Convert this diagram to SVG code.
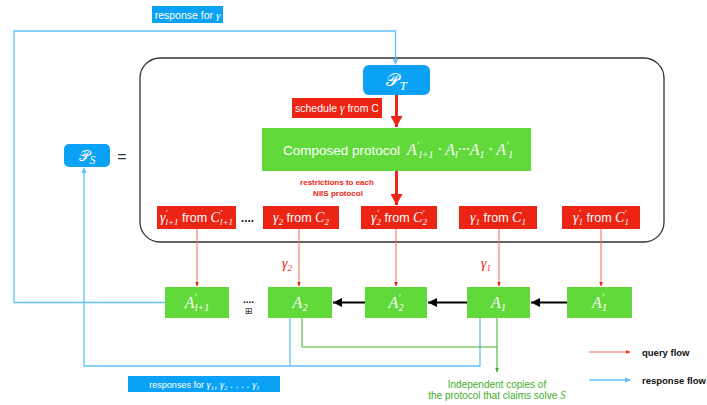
<svg xmlns="http://www.w3.org/2000/svg" width="707" height="405" viewBox="0 0 707 405">
<style>
.blue{fill:#0ba2f6}
.green{fill:#61d93b}
.red{fill:#ec2414}
.bl{fill:none;stroke:#60c1f9;stroke-width:1.3}
.rl{fill:none;stroke:#f26a5c;stroke-width:1}
.gl{fill:none;stroke:#3fae2b;stroke-width:1}
.kl{fill:none;stroke:#000;stroke-width:2}
.rk{fill:none;stroke:#ec2414;stroke-width:3}
.m{font-family:"Liberation Serif","DejaVu Serif",serif;font-style:italic}
.s{font-family:"Liberation Sans",Arial,sans-serif}
.w{fill:#fff}
.rt{font-size:14px;fill:#fff}
.ft{font-size:12.5px}
.gt{font-size:16px;fill:#fff}
.sc{font-family:"DejaVu Serif","Noto Sans","DejaVu Sans",serif;font-style:normal}
</style>
<defs>
<marker id="mb" markerWidth="6" markerHeight="6" refX="5" refY="3" orient="auto" markerUnits="userSpaceOnUse"><path d="M0,0.5 L6,3 L0,5.5 z" fill="#60c1f9"/></marker>
<marker id="mr" markerWidth="5" markerHeight="5" refX="4.5" refY="2.5" orient="auto" markerUnits="userSpaceOnUse"><path d="M0,0.5 L5,2.5 L0,4.5 z" fill="#ec2414"/></marker>
<marker id="mR" markerWidth="11" markerHeight="12" refX="11" refY="6" orient="auto" markerUnits="userSpaceOnUse"><path d="M0,0 L11,6 L0,12 z" fill="#ec2414"/></marker>
<marker id="mk" markerWidth="9" markerHeight="9" refX="9" refY="4.5" orient="auto" markerUnits="userSpaceOnUse"><path d="M0,0 L9,4.5 L0,9 z" fill="#000"/></marker>
<marker id="mg" markerWidth="5" markerHeight="5" refX="4.5" refY="2.5" orient="auto" markerUnits="userSpaceOnUse"><path d="M0,0.5 L5,2.5 L0,4.5 z" fill="#3fae2b"/></marker>
</defs>

<rect id="container" x="140" y="58" width="524" height="184" rx="20" fill="none" stroke="#333" stroke-width="1.3"/>

<g id="connectors">
<path class="bl" d="M165,302.5 H14 V31 H395.5 V64" marker-end="url(#mb)"/>
<path class="bl" d="M480,318 V366 H84 V168" marker-end="url(#mb)"/>
<path class="bl" d="M290,318 V366"/>
<path class="rk" d="M396.5,95 V127" marker-end="url(#mR)"/>
<path class="rk" d="M396.5,171 V205" marker-end="url(#mR)"/>
<path class="rl" d="M197,229 V286" marker-end="url(#mr)"/>
<path class="rl" d="M299,229 V286" marker-end="url(#mr)"/>
<path class="rl" d="M396,229 V286" marker-end="url(#mr)"/>
<path class="rl" d="M499,229 V286" marker-end="url(#mr)"/>
<path class="rl" d="M601,229 V286" marker-end="url(#mr)"/>
<path class="kl" d="M365,302.5 H333" marker-end="url(#mk)"/>
<path class="kl" d="M467,302.5 H428" marker-end="url(#mk)"/>
<path class="kl" d="M567,302.5 H531" marker-end="url(#mk)"/>
<path class="gl" d="M302,318 V347 H497"/>
<path class="gl" d="M497,318 V372" marker-end="url(#mg)"/>
<path class="rl" d="M589,352 H630" marker-end="url(#mr)"/>
<path class="bl" d="M589,380 H630" marker-end="url(#mb)"/>
</g>

<g id="label-response">
<rect class="blue" x="152" y="6" width="71" height="17"/>
<text x="187.5" y="18.5" text-anchor="middle" font-size="10.5" class="w"><tspan class="s">response for </tspan><tspan class="m" font-size="11">γ</tspan></text>
</g>

<g id="PT">
<rect class="blue" x="363" y="65" width="67" height="30" rx="6"/>
<text x="396.5" y="86" text-anchor="middle" class="w"><tspan class="sc" font-size="18">𝒫</tspan><tspan class="m" font-size="13" dy="4">T</tspan></text>
</g>

<g id="PS">
<rect class="blue" x="64" y="144" width="46" height="23" rx="5"/>
<text x="87" y="161" text-anchor="middle" class="w"><tspan class="sc" font-size="15">𝒫</tspan><tspan class="m" font-size="12" dy="3">S</tspan></text>
</g>
<text x="122" y="162" text-anchor="middle" font-size="16" fill="#333" class="s">=</text>

<g id="schedule">
<rect class="red" x="292" y="98" width="90" height="20"/>
<text x="337" y="112" text-anchor="middle" font-size="10.5" class="w"><tspan class="s">schedule </tspan><tspan class="m" font-size="11.5">γ</tspan><tspan class="s"> from C</tspan></text>
</g>

<g id="composed">
<rect class="green" x="262" y="128" width="269" height="43"/>
<text x="283" y="155" font-size="13.5" class="w s">Composed protocol</text>
<text x="407" y="155" font-size="16" class="w m">A<tspan font-size="10" dy="-6">′</tspan><tspan font-size="10" dy="9">l+1</tspan><tspan dy="-3"> · A</tspan><tspan font-size="10" dy="3">l</tspan><tspan dy="-3">···A</tspan><tspan font-size="10" dy="3">1</tspan><tspan dy="-3"> · A</tspan><tspan font-size="10" dy="-6">′</tspan><tspan font-size="10" dy="9">1</tspan></text>
</g>

<text x="337" y="185" text-anchor="middle" font-size="8" font-weight="bold" fill="#ec2414" class="s">restrictions to each</text>
<text x="338" y="196" text-anchor="middle" font-size="8" font-weight="bold" fill="#ec2414" class="s">NIIS protocol</text>

<g id="q-l1">
<rect class="red" x="157" y="206" width="79" height="23"/>
<text x="196.5" y="222" text-anchor="middle" class="rt"><tspan class="m">γ</tspan><tspan class="m" font-size="9" dy="-6">′</tspan><tspan class="m" font-size="9" dx="-2" dy="9">l+1</tspan><tspan class="s ft" dy="-3"> from </tspan><tspan class="m">C</tspan><tspan class="m" font-size="9" dy="-6">′</tspan><tspan class="m" font-size="9" dx="-2" dy="9">l+1</tspan></text>
</g>
<text x="247.5" y="222" text-anchor="middle" font-size="12" font-weight="bold" fill="#222" class="s">....</text>
<g id="q-2">
<rect class="red" x="263" y="206" width="76" height="23"/>
<text x="301" y="222" text-anchor="middle" class="rt"><tspan class="m">γ</tspan><tspan class="m" font-size="9" dy="3">2</tspan><tspan class="s ft" dy="-3"> from </tspan><tspan class="m">C</tspan><tspan class="m" font-size="9" dy="3">2</tspan></text>
</g>
<g id="q-2p">
<rect class="red" x="361" y="206" width="76" height="23"/>
<text x="399" y="222" text-anchor="middle" class="rt"><tspan class="m">γ</tspan><tspan class="m" font-size="9" dy="-6">′</tspan><tspan class="m" font-size="9" dx="-2" dy="9">2</tspan><tspan class="s ft" dy="-3"> from </tspan><tspan class="m">C</tspan><tspan class="m" font-size="9" dy="-6">′</tspan><tspan class="m" font-size="9" dx="-2" dy="9">2</tspan></text>
</g>
<g id="q-1">
<rect class="red" x="459" y="206" width="78" height="23"/>
<text x="498" y="222" text-anchor="middle" class="rt"><tspan class="m">γ</tspan><tspan class="m" font-size="9" dy="3">1</tspan><tspan class="s ft" dy="-3"> from </tspan><tspan class="m">C</tspan><tspan class="m" font-size="9" dy="3">1</tspan></text>
</g>
<g id="q-1p">
<rect class="red" x="562" y="206" width="78" height="23"/>
<text x="601" y="222" text-anchor="middle" class="rt"><tspan class="m">γ</tspan><tspan class="m" font-size="9" dy="-6">′</tspan><tspan class="m" font-size="9" dx="-2" dy="9">1</tspan><tspan class="s ft" dy="-3"> from </tspan><tspan class="m">C</tspan><tspan class="m" font-size="9" dy="-6">′</tspan><tspan class="m" font-size="9" dx="-2" dy="9">1</tspan></text>
</g>

<text x="287" y="268" text-anchor="middle" font-size="14" fill="#ec2414" class="m">γ<tspan font-size="9" dy="3">2</tspan></text>
<text x="486" y="268" text-anchor="middle" font-size="14" fill="#ec2414" class="m">γ<tspan font-size="9" dy="3">1</tspan></text>

<g id="A-l1">
<rect class="green" x="165" y="287" width="64" height="31"/>
<text x="197" y="308" text-anchor="middle" class="gt m">A<tspan font-size="10" dy="-7">′</tspan><tspan font-size="10" dx="-2" dy="10">l+1</tspan></text>
</g>
<text x="248.5" y="303" text-anchor="middle" font-size="10" font-weight="bold" fill="#222" class="s">....</text>
<text x="248.5" y="314" text-anchor="middle" font-size="9" fill="#333" font-family="DejaVu Sans, sans-serif">⊞</text>
<g id="A-2">
<rect class="green" x="268" y="287" width="64" height="31"/>
<text x="300" y="308" text-anchor="middle" class="gt m">A<tspan font-size="10" dy="3">2</tspan></text>
</g>
<g id="A-2p">
<rect class="green" x="365" y="287" width="62" height="31"/>
<text x="396" y="308" text-anchor="middle" class="gt m">A<tspan font-size="10" dy="-7">′</tspan><tspan font-size="10" dx="-2" dy="10">2</tspan></text>
</g>
<g id="A-1">
<rect class="green" x="467" y="287" width="63" height="31"/>
<text x="498.5" y="308" text-anchor="middle" class="gt m">A<tspan font-size="10" dy="3">1</tspan></text>
</g>
<g id="A-1p">
<rect class="green" x="567" y="287" width="65" height="31"/>
<text x="599.5" y="308" text-anchor="middle" class="gt m">A<tspan font-size="10" dy="-7">′</tspan><tspan font-size="10" dx="-2" dy="10">1</tspan></text>
</g>

<g id="label-responses">
<rect class="blue" x="128" y="376" width="152" height="16"/>
<text x="204" y="388" text-anchor="middle" font-size="9" class="w"><tspan class="s">responses for </tspan><tspan class="m" font-size="11">γ</tspan><tspan class="m" font-size="7" dy="2">1</tspan><tspan class="m" font-size="11" dy="-2">, γ</tspan><tspan class="m" font-size="7" dy="2">2</tspan><tspan class="m" font-size="11" dy="-2"> . . . . γ</tspan><tspan class="m" font-size="7" dy="2">l</tspan></text>
</g>

<text x="497" y="388" text-anchor="middle" font-size="10" fill="#3fae2b" class="s">Independent copies of</text>
<text x="497" y="399" text-anchor="middle" font-size="10" fill="#3fae2b"><tspan class="s">the protocol that claims solve </tspan><tspan class="m" font-size="11.5">S</tspan></text>

<text x="642" y="355.5" font-size="9.5" font-weight="bold" fill="#111" class="s">query flow</text>
<text x="642" y="383.5" font-size="9.5" font-weight="bold" fill="#111" class="s">response flow</text>
</svg>
